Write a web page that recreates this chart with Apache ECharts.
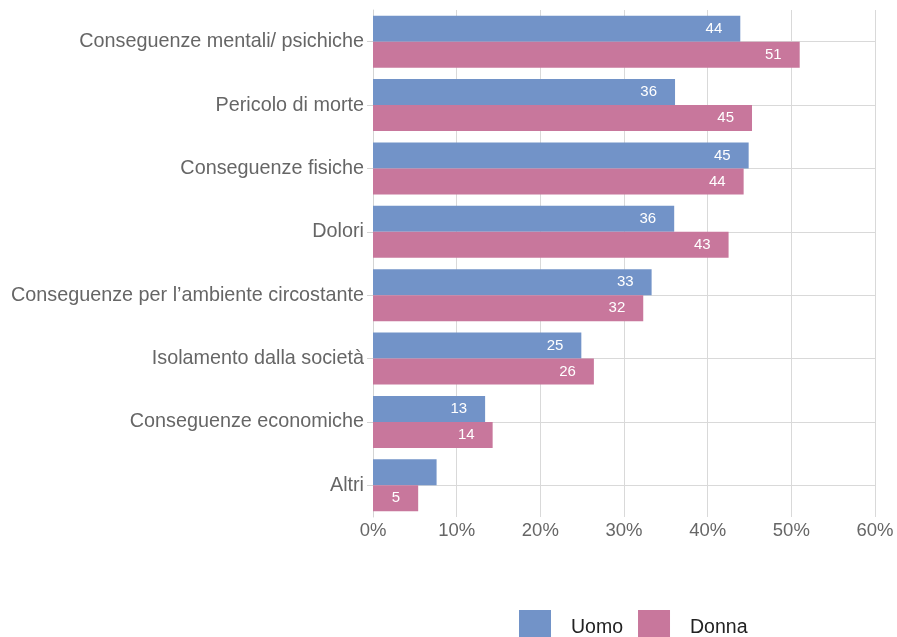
<!DOCTYPE html>
<html>
<head>
<meta charset="utf-8">
<script src="https://cdn.jsdelivr.net/npm/echarts@6/dist/echarts.min.js"></script>
<style>
  html, body { margin: 0; padding: 0; background: #fff; }
  #chart { width: 897px; height: 637px; }
</style>
</head>
<body>
<div id="chart"></div>
<script>
const categories = [
  'Conseguenze mentali/ psichiche',
  'Pericolo di morte',
  'Conseguenze fisiche',
  'Dolori',
  'Conseguenze per l’ambiente circostante',
  'Isolamento dalla società',
  'Conseguenze economiche',
  'Altri'
]
const uomo = [43.9, 36.1, 44.9, 36.0, 33.3, 24.9, 13.4, 7.6]
const donna = [51.0, 45.3, 44.3, 42.5, 32.3, 26.4, 14.3, 5.4]
// labels that are not printed in the picture
const uomoNoLabel = [7]
const xTicks = [0, 10, 20, 30, 40, 50, 60]

const chart = echarts.init(document.getElementById('chart'))
const font = 'Liberation Sans, Arial, Helvetica, sans-serif'

const label = {
  show: true,
  position: 'insideRight',
  distance: 18,
  color: '#fff',
  fontSize: 15,
  fontFamily: font,
  formatter: p => Math.round(p.value)
}

chart.setOption({
  animation: false,
  grid: { left: 373, right: 22, top: 10, bottom: 120 },
  legend: {
    left: 514,
    top: 605,
    itemWidth: 32,
    itemHeight: 27,
    itemGap: 15,
    icon: 'rect',
    formatter: '{t|{name}}',
    textStyle: {
      fontSize: 19.5,
      color: '#222',
      fontFamily: font,
      rich: { t: { fontSize: 19.5, color: '#222', fontFamily: font, padding: [8, 0, 0, 15] } }
    },
    data: ['Uomo', 'Donna']
  },
  xAxis: {
    type: 'value',
    min: xTicks[0],
    max: xTicks[xTicks.length - 1],
    interval: 10,
    axisLine: { show: false },
    axisTick: { show: false },
    splitLine: { lineStyle: { color: '#d9d9d9', width: 1 } },
    axisLabel: { formatter: '{value}%', fontSize: 18.5, color: '#666', fontFamily: font, margin: 4 }
  },
  yAxis: {
    type: 'category',
    data: categories,
    inverse: true,
    axisLine: { show: true, lineStyle: { color: '#d4d4d4' } },
    axisTick: { show: true, alignWithLabel: true, length: 6, lineStyle: { color: '#d4d4d4' } },
    splitLine: { show: true, alignWithLabel: true, lineStyle: { color: '#d9d9d9' } },
    axisLabel: { fontSize: 19.8, color: '#666', fontFamily: font, margin: 9 }
  },
  series: [
    {
      name: 'Uomo',
      type: 'bar',
      barGap: '0%',
      barCategoryGap: '18%',
      itemStyle: { color: '#7293c8' },
      label: label,
      data: uomo.map((v, i) => uomoNoLabel.includes(i) ? { value: v, label: { show: false } } : v)
    },
    {
      name: 'Donna',
      type: 'bar',
      itemStyle: { color: '#c8779c' },
      label: label,
      data: donna
    }
  ]
})
</script>
</body>
</html>
